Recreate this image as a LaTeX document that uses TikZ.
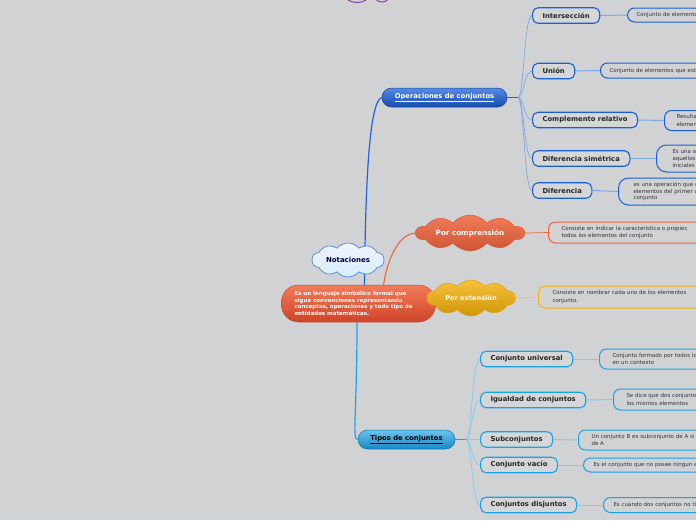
\documentclass[tikz,border=0pt]{standalone}
\usepackage{fontspec}
\setmainfont{DejaVu Sans}
\usetikzlibrary{shapes.symbols, backgrounds, calc}
\definecolor{fondo}{RGB}{209,210,212}
\definecolor{hijofill}{RGB}{213,214,216}
\definecolor{azulop}{RGB}{28,94,216}
\definecolor{azulfino}{RGB}{127,168,230}
\definecolor{azultema}{RGB}{30,100,220}
\definecolor{cian}{RGB}{26,162,232}
\definecolor{cianfino}{RGB}{128,203,239}
\definecolor{rojo}{RGB}{240,100,60}
\definecolor{amarillo}{RGB}{245,177,10}
\definecolor{morado}{RGB}{128,48,160}
\definecolor{texto}{RGB}{50,52,56}

\begin{document}
\begin{tikzpicture}[x=1pt, y=-1pt,
    tema/.style={rounded corners=9.5pt, minimum height=19pt, inner sep=0pt, font=\fontsize{6.8}{8}\selectfont\bfseries},
    hijo/.style={draw=#1, line width=1.1pt, fill=hijofill, rounded corners=5.5pt, anchor=west, minimum height=15.5pt, inner xsep=10pt, inner ysep=0pt, font=\fontsize{6.8}{8}\selectfont\bfseries, text=black!85},
    nota/.style={draw=#1, line width=1pt, fill=fondo, rounded corners=7pt, anchor=west, text width=200pt, align=left, inner xsep=9pt, inner ysep=0pt, font=\fontsize{5.5}{7.2}\selectfont, text=texto},
    nube/.style={cloud, cloud puffs=10, cloud puff arc=100, cloud ignores aspect, inner sep=0pt, font=\fontsize{7}{8}\selectfont\bfseries},
    rama/.style={line width=0.7pt, color=#1}
]
\useasboundingbox (0,0) rectangle (696,520);
\clip (0,0) rectangle (696,520);

% tema de arriba, cortado
\draw[morado, line width=0.9pt] (357,-5) ellipse [x radius=12pt, y radius=7.5pt];
\draw[morado, line width=0.9pt] (382,-4) ellipse [x radius=7pt, y radius=6pt];

% idea central
\node[draw=rojo!80!black, line width=0.5pt, rounded corners=17pt, top color=rojo!85!white, bottom color=rojo!80!red!85!black, minimum width=154pt, minimum height=37pt, text width=128pt, align=left, inner sep=0pt, text=white, font=\fontsize{5.5}{6.6}\selectfont\bfseries] (centro) at (358.5,303.5)
    {Es un lenguaje simbólico formal que\\sigue convenciones representando\\conceptos, operaciones y todo tipo de\\entidades matemáticas.};
\node[nube, draw=azultema!80!white, line width=0.7pt, top color=white!95!blue, bottom color=cian!18!white, minimum width=72pt, minimum height=34pt, text=blue!25!black] (notac) at (348,260) {Notaciones};

% operaciones
\node[tema, draw=azulop!70!black, line width=0.5pt, top color=azultema!75!white, bottom color=azulop!80!black, minimum width=125pt, text=white] (ops) at (444.5,97.5) {\underline{Operaciones de conjuntos}};
\node[hijo=azulop] (inter) at (532,15.5) {Intersección};
\node[hijo=azulop] (union) at (532,71) {Unión};
\node[hijo=azulop] (compl) at (532,120) {Complemento relativo};
\node[hijo=azulop] (difsim) at (532,158.5) {Diferencia simétrica};
\node[hijo=azulop] (dif) at (532,190.5) {Diferencia};
\node[nota=azulop, minimum height=14pt] (interd) at (627,15) {Conjunto de elementos};
\node[nota=azulop, minimum height=15pt] (uniond) at (600,70.5) {Conjunto de elementos que est};
\node[nota=azulop, minimum height=20pt, inner xsep=12pt] (compld) at (664,120.5) {Resulta\\elemen};
\node[nota=azulop, minimum height=27pt, inner xsep=16pt, rounded corners=10pt, font=\fontsize{5.5}{6.7}\selectfont] (difsimd) at (656,158.5) {Es una o\\aquellos\\iniciales};
\node[nota=azulop, minimum height=27pt, inner xsep=15pt, rounded corners=10pt, font=\fontsize{5.5}{6.7}\selectfont] (difd) at (618,191.5) {es una operación que c\\elementos del primer c\\conjunto};

% por comprension / por extension
\node[nube, draw=rojo!90!black, line width=0.5pt, top color=rojo!85!white, bottom color=rojo!85!black, minimum width=108pt, minimum height=36pt, text=white, font=\fontsize{7.2}{8}\selectfont\bfseries] (comp) at (470,233) {Por comprensión};
\node[nota=rojo, minimum height=21pt, inner xsep=13pt] (compd) at (548,232.5) {Consiste en indicar la característica o propiec\\todos los elementos del conjunto};
\node[nube, draw=amarillo!90!black, line width=0.5pt, top color=amarillo!80!white, bottom color=amarillo!85!black, minimum width=88pt, minimum height=36pt, text=white, font=\fontsize{6.6}{8}\selectfont\bfseries] (ext) at (471,298) {Por extensión};
\node[nota=amarillo, minimum height=22pt, inner xsep=14pt] (extd) at (538,297) {Consiste en nombrar cada uno de los elementos\\conjunto.};

% tipos
\node[tema, draw=cian!70!black, line width=0.5pt, top color=cian!65!white, bottom color=cian!85!black, minimum width=97pt, text=black] (tipos) at (406.5,439.5) {\underline{Tipos de conjuntos}};
\node[hijo=cian] (univ) at (480,359) {Conjunto universal};
\node[hijo=cian] (igual) at (480,400) {Igualdad de conjuntos};
\node[hijo=cian] (sub) at (480,439.5) {Subconjuntos};
\node[hijo=cian] (vacio) at (480,465) {Conjunto vacío};
\node[hijo=cian] (disj) at (480,505) {Conjuntos disjuntos};
\node[nota=cian, minimum height=20pt, inner xsep=13pt] (univd) at (599,359) {Conjunto formado por todos lo\\en un contexto};
\node[nota=cian, minimum height=21pt, inner xsep=13pt] (iguald) at (613,399.5) {Se dice que dos conjuntos\\los mismos elementos};
\node[nota=cian, minimum height=20pt, inner xsep=13pt] (subd) at (578,440) {Un conjunto B es subconjunto de A si\\de A};
\node[nota=cian, minimum height=14pt, inner xsep=10pt] (vaciod) at (583,465) {Es el conjunto que no posee ningun e};
\node[nota=cian, minimum height=15pt, inner xsep=10pt] (disjd) at (603,505) {Es cuando dos conjuntos no ti};

\coordinate (opsj) at (518,97.5);
\coordinate (tipj) at (466,439.5);

\begin{pgfonlayer}{background}
\fill[fondo] (0,0) rectangle (696,520);
\draw[azultema, line width=1.2pt] ($(centro.north)+(6,0)$) .. controls +(1,-110) and +(-12,4) .. (ops.west);
\draw[rojo, line width=1.1pt] ($(centro.north)+(25,0)$) .. controls +(5,-30) and +(-15,2) .. (comp.west);
\draw[amarillo, line width=1.1pt] (centro.east) -- (ext.west);
\draw[cian, line width=1.2pt] ($(centro.south)+(-1.5,0)$) .. controls +(0,95) and +(-6,0) .. (tipos.west);
\draw[azultema, line width=1.1pt] (ops.east) -- (opsj);
\foreach \k in {inter,union,compl,difsim,dif} {
    \draw[rama=azulfino] (opsj) .. controls +(6,0) and +(-8,0) .. (\k.west);
    \draw[rama=azulfino, line width=1pt] (\k.east) -- (\k d.west);
}
\draw[rama=rojo] (comp.east) -- (compd.west);
\draw[rama=amarillo!80!white] (ext.east) -- (extd.west);
\draw[cian, line width=1.1pt] (tipos.east) -- (tipj);
\foreach \k in {univ,igual,sub,vacio,disj} {
    \draw[rama=cianfino] (tipj) .. controls +(6,0) and +(-8,0) .. (\k.west);
    \draw[rama=cianfino, line width=1pt] (\k.east) -- (\k d.west);
}
\end{pgfonlayer}
\end{tikzpicture}
\end{document}
